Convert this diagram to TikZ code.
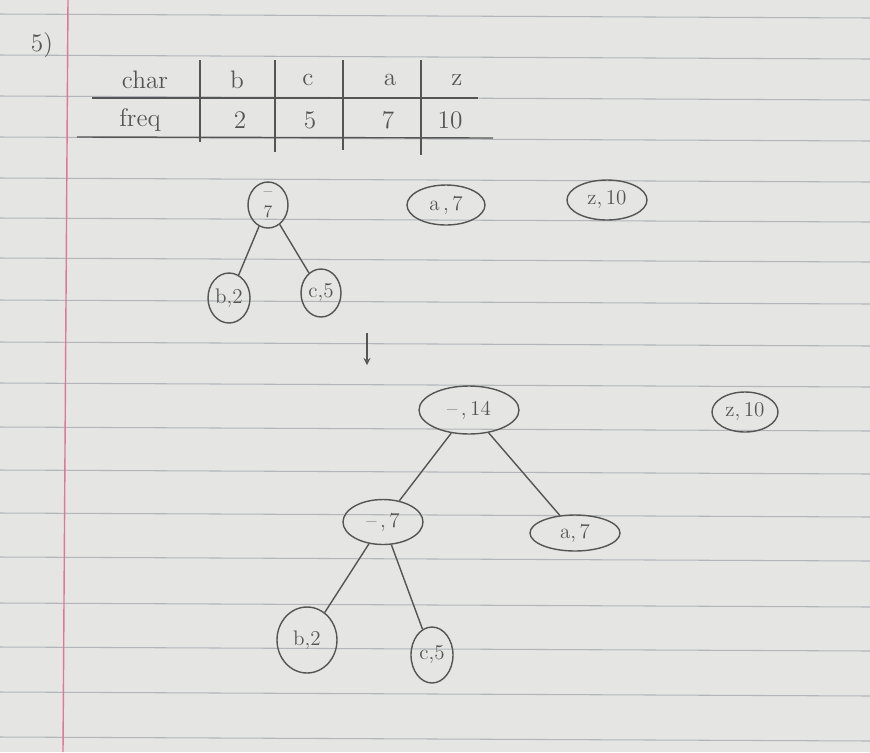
\documentclass[tikz,border=0pt]{standalone}
\usetikzlibrary{shapes.geometric}
\definecolor{paper}{RGB}{229,229,227}
\definecolor{rule}{RGB}{178,182,186}
\definecolor{margin}{RGB}{222,120,150}
\definecolor{pencil}{RGB}{85,85,85}
\tikzset{
  hnode/.style={ellipse, draw=pencil, line width=0.8pt, text=pencil, inner sep=0pt, font=\large},
  hedge/.style={draw=pencil, line width=0.8pt},
  tabtxt/.style={text=pencil, font=\Large}
}
\begin{document}
\begin{tikzpicture}[x=0.02cm, y=-0.02cm, >=stealth]
    % Foglio
    \fill[paper] (0,0) rectangle (870,752);
    \useasboundingbox (0,0) rectangle (870,752);
    \foreach \y in {14,55,96,137,178,218,258,300,342,383,427,470,513,557,603,647,692,737}
        \draw[rule, line width=0.6pt] (0,\y) -- (870,\y+4);
    \draw[margin, line width=0.8pt] (68,0) -- (63,752);

    % Numero esercizio
    \node[text=pencil, font=\Large] (num) at (42,45) {5)};

    % Tabella
    \node[tabtxt] (hchar) at (145,80) {char};
    \node[tabtxt] (hb) at (237,80) {b};
    \node[tabtxt] (hc) at (308,80) {c};
    \node[tabtxt] (ha) at (390,80) {a};
    \node[tabtxt] (hz) at (457,80) {z};
    \node[tabtxt] (hfreq) at (140,120) {freq};
    \node[tabtxt] (fb) at (240,120) {2};
    \node[tabtxt] (fc) at (310,120) {5};
    \node[tabtxt] (fa) at (388,120) {7};
    \node[tabtxt] (fz) at (450,120) {10};
    \draw[hedge] (92,98) -- (478,98);
    \draw[hedge] (77,137) -- (493,138);
    \foreach \x/\b in {200/142,275/152,343/150,421/155}
        \draw[hedge] (\x,60) -- (\x,\b);

    % Primo passo
    \node[hnode, font=\normalsize, minimum width=0.8cm, minimum height=0.92cm, align=center] (r7) at (268,205) {--\\7};
    \node[hnode, minimum width=0.84cm, minimum height=1.0cm] (b2a) at (229,298) {b,2};
    \node[hnode, minimum width=0.8cm, minimum height=0.96cm] (c5a) at (321,293) {c,5};
    \node[hnode, minimum width=1.56cm, minimum height=0.8cm] (a7a) at (446,205) {a\,,\,7};
    \node[hnode, minimum width=1.6cm, minimum height=0.8cm] (z10a) at (607,200) {z,\,10};
    \draw[hedge] (r7) -- (b2a);
    \draw[hedge] (r7) -- (c5a);

    % Freccia
    \coordinate (fa1) at (367,333);
    \coordinate (fa2) at (367,365);
    \draw[->, hedge] (fa1) -- (fa2);

    % Secondo passo
    \node[hnode, minimum width=2.0cm, minimum height=0.96cm] (r14) at (469,410) {--\,,\,14};
    \node[hnode, minimum width=1.32cm, minimum height=0.8cm] (z10b) at (745,412) {z,\,10};
    \node[hnode, minimum width=1.6cm, minimum height=0.9cm] (m7) at (383,522) {--\,,\,7};
    \node[hnode, minimum width=1.8cm, minimum height=0.72cm] (a7b) at (575,533) {a,\,7};
    \node[hnode, minimum width=1.2cm, minimum height=1.32cm] (b2b) at (307,640) {b,2};
    \node[hnode, minimum width=0.84cm, minimum height=1.12cm] (c5b) at (432,655) {c,5};
    \draw[hedge] (r14) -- (m7);
    \draw[hedge] (r14) -- (a7b);
    \draw[hedge] (m7) -- (b2b);
    \draw[hedge] (m7) -- (c5b);
\end{tikzpicture}
\end{document}
